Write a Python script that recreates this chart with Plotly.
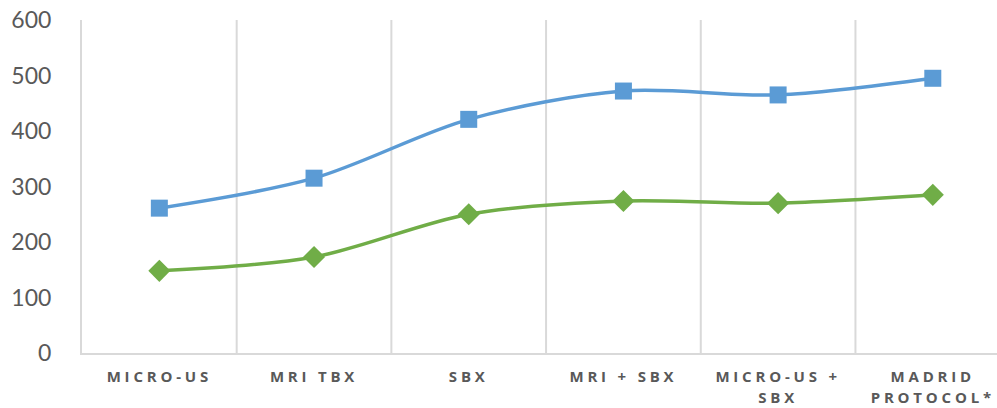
import plotly.graph_objects as go

categories = ["MICRO-US", "MRI TBX", "SBX", "MRI + SBX", "MICRO-US +<br>SBX", "MADRID<br>PROTOCOL*"]
series_blue = [261, 315, 421, 472, 465, 495]
series_green = [148, 173, 250, 274, 270, 285]
y_ticks = [0, 100, 200, 300, 400, 500, 600]

BLUE = "#5B9BD5"
GREEN = "#70AD47"
GRID = "#D9D9D9"
TEXT = "#595959"

x_idx = list(range(len(categories)))

fig = go.Figure()
fig.add_trace(go.Scatter(
    x=x_idx, y=series_blue, mode="lines+markers",
    line=dict(color=BLUE, width=3.5, shape="spline", smoothing=0.9),
    marker=dict(symbol="square", size=17, color=BLUE),
    showlegend=False,
))
fig.add_trace(go.Scatter(
    x=x_idx, y=series_green, mode="lines+markers",
    line=dict(color=GREEN, width=3.5, shape="spline", smoothing=0.9),
    marker=dict(symbol="diamond", size=17, color=GREEN),
    showlegend=False,
))

# vertical separators between categories
for b in [i + 0.5 for i in x_idx[:-1]]:
    fig.add_shape(type="line", xref="x", yref="paper", x0=b, x1=b, y0=0, y1=1,
                  line=dict(color=GRID, width=2), layer="below")

fig.update_layout(
    width=997, height=408,
    margin=dict(l=82, r=0, t=20, b=55),
    paper_bgcolor="white", plot_bgcolor="white",
    font=dict(family="Lato, Open Sans, sans-serif", color=TEXT),
)
fig.update_xaxes(
    range=[-0.5, 5.415],
    tickmode="array", tickvals=x_idx, ticktext=categories,
    tickfont=dict(size=15, family="Open Sans, sans-serif", color=TEXT, weight="bold"),
    showgrid=False, zeroline=False,
    showline=True, linecolor=GRID, linewidth=2,
    ticks="", ticklabelstandoff=9,
)
fig.update_yaxes(
    range=[0, 600],
    tickmode="array", tickvals=y_ticks,
    tickfont=dict(size=23, family="Lato, sans-serif", color=TEXT),
    showgrid=False, zeroline=False,
    showline=True, linecolor=GRID, linewidth=2,
    ticks="", ticklabelstandoff=24,
)

# wide tracking and slightly taller line spacing for the category labels
label_style_js = """
function styleLabels(){
  document.querySelectorAll('.xtick text').forEach(function(t){
    t.style.letterSpacing = '3.8px';
    var lines = t.querySelectorAll('tspan.line');
    for (var i = 1; i < lines.length; i++) { lines[i].setAttribute('dy', '1.4em'); }
  });
}
styleLabels();
var gd = document.getElementsByClassName('plotly-graph-div')[0];
if (gd && gd.on) { gd.on('plotly_afterplot', styleLabels); }
"""

fig.write_html("out.html", post_script=label_style_js)
